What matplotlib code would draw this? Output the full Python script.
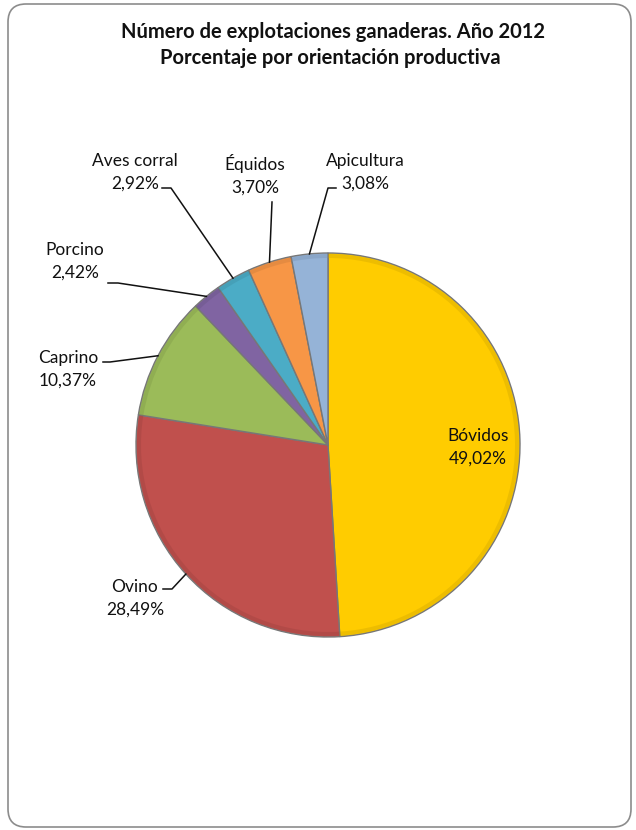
import matplotlib
matplotlib.use('Agg')
import matplotlib.pyplot as plt
import matplotlib.colors as mcolors
from matplotlib.patches import FancyBboxPatch, Wedge
import numpy as np

plt.rcParams['font.family'] = ['Lato', 'DejaVu Sans']

# data
categorias = ['Bóvidos', 'Ovino', 'Caprino', 'Porcino', 'Aves corral', 'Équidos', 'Apicultura']
porcentajes = [49.02, 28.49, 10.37, 2.42, 2.92, 3.70, 3.08]
colores = ['#FFCC00', '#C0504D', '#9BBB59', '#8064A2', '#4BACC6', '#F79646', '#95B3D7']

# label layout in pixels (x, y from top): text centre, start of leader, elbow
txt_pos = [(478, 447), (135, 598), (68, 369), (75, 261), (135, 172), (255, 175), (365, 172)]
line_start = [None, (163, 589), (103, 362), (108, 283), (162, 188), (272, 202), (336, 188)]
line_elbow = [None, (172, 589), (110, 362), (118, 283), (171, 188), None, (328, 188)]

W, H = 636, 830
cx, cy, R = 328, 385, 192

fig = plt.figure(figsize=(6.36, 8.30), dpi=100)
ax = fig.add_axes([0, 0, 1, 1])

# outer rounded frame
frame = FancyBboxPatch((8, 3), W - 13, H - 7, boxstyle='round,pad=0,rounding_size=18',
                       fc='white', ec='#8c8c8c', lw=1.2, zorder=0)
ax.add_patch(frame)

wedges, _ = ax.pie(porcentajes, colors=colores, startangle=90, counterclock=False,
                   center=(cx, cy), radius=R, frame=True,
                   wedgeprops=dict(linewidth=1.0, edgecolor='#777777'))
for w, c in zip(wedges, colores):
    w.set_zorder(2)
    # soft darker rim to suggest the bevel
    dark = [v * 0.8 for v in mcolors.to_rgb(c)]
    ax.add_patch(Wedge((cx, cy), R - 1, w.theta1, w.theta2,
                       width=4, fc=dark, ec='none', alpha=0.35, zorder=3))
ax.set_xlim(0, W)
ax.set_ylim(0, H)
ax.set_aspect('equal')
ax.axis('off')

for i, (nom, p) in enumerate(zip(categorias, porcentajes)):
    tx, ty = txt_pos[i]
    txt = nom + '\n' + ('%.2f' % p).replace('.', ',') + '%'
    ax.text(tx, H - ty, txt, ha='center', va='center', fontsize=12.5,
            linespacing=1.5, color='#111111', zorder=5)
    if line_start[i] is None:
        continue
    w = wedges[i]
    ang = np.deg2rad((w.theta1 + w.theta2) / 2)
    ex, ey = cx + R * np.cos(ang), cy + R * np.sin(ang)
    xs = [line_start[i][0]]
    ys = [H - line_start[i][1]]
    if line_elbow[i] is not None:
        xs.append(line_elbow[i][0])
        ys.append(H - line_elbow[i][1])
    xs.append(ex)
    ys.append(ey)
    ax.plot(xs, ys, color='#111111', lw=1.1, zorder=4)

ax.text(W / 2 + 15, H - 32, 'Número de explotaciones ganaderas. Año 2012',
        ha='center', va='center', fontsize=14.5, fontweight='bold', color='#111111')
ax.text(W / 2 + 12, H - 58, 'Porcentaje por orientación productiva',
        ha='center', va='center', fontsize=14.5, fontweight='bold', color='#111111')

fig.savefig('out.png', dpi=100)
